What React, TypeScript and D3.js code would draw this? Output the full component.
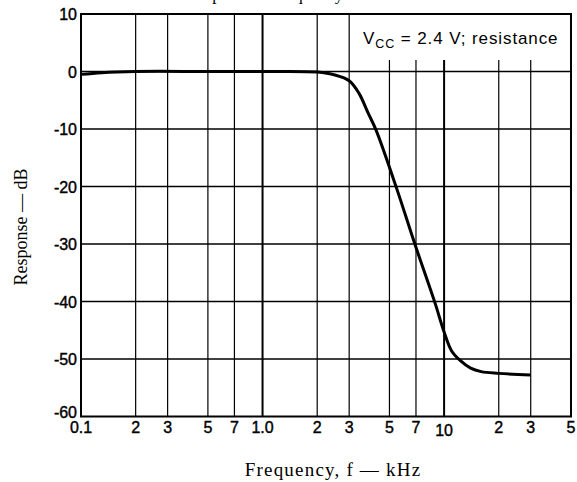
import React from "react";
import * as d3 from "d3";

// frequency (kHz) and response (dB)
const freqs = [0.1, 0.13, 0.2, 0.5, 1, 2, 2.5, 3, 3.4, 3.8, 4.22, 5.5, 6.9, 8.9, 10, 11, 12.3, 14, 16, 20, 30];
const response = [-0.5, -0.2, 0, 0, 0, -0.1, -0.6, -1.6, -3.8, -7.1, -10.2, -20.5, -30, -40.2, -45.3, -48.6, -50.3, -51.6, -52.2, -52.5, -52.8];

const xGrid = [0.2, 0.3, 0.5, 0.7, 1, 2, 3, 5, 7, 10, 20, 30];
const xMajor = [1, 10];
const xTicks = [0.1, 0.2, 0.3, 0.5, 0.7, 1, 2, 3, 5, 7, 10, 20, 30, 50];
const xTickLabels = ["0.1", "2", "3", "5", "7", "1.0", "2", "3", "5", "7", "10", "2", "3", "5"];
const yTicks = [10, 0, -10, -20, -30, -40, -50, -60];

const W = 577;
const H = 482;

const App = () => {
  const x = d3.scaleLog().domain([0.1, 50]).range([81, 571]);
  const y = d3.scaleLinear().domain([-60, 10]).range([416.5, 14]);

  const data = freqs.map((f, i) => ({ f, db: response[i] }));
  const line = d3
    .line<{ f: number; db: number }>()
    .x((d) => x(d.f))
    .y((d) => y(d.db))
    .curve(d3.curveCatmullRom.alpha(0.5));

  // legend box hides the grid in the upper right corner
  const boxLeft = x(3);
  const boxBottom = 60;

  return (
    <svg
      width={W}
      height={H}
      style={{ position: "absolute", left: 0, top: 0, background: "#fff" }}
    >
      <text x={265} y={0} fontFamily="Liberation Serif, serif" fontSize={17} textAnchor="middle">
        Response vs frequency
      </text>

      {/* horizontal grid */}
      {yTicks.slice(1, -1).map((t) => (
        <line key={"h" + t} x1={x(0.1)} x2={x(50)} y1={y(t)} y2={y(t)} stroke="#000" strokeWidth={1.3} />
      ))}

      {/* vertical grid */}
      {xGrid.map((f) => {
        const major = xMajor.includes(f);
        const top = f > 3 ? boxBottom : y(10);
        return (
          <line
            key={"v" + f}
            x1={x(f)}
            x2={x(f)}
            y1={top}
            y2={y(-60)}
            stroke="#000"
            strokeWidth={major ? 2 : 1.2}
          />
        );
      })}

      <rect x={boxLeft + 1} y={y(10) + 1} width={x(50) - boxLeft - 2} height={boxBottom - y(10) - 1} fill="#fff" />
      <text x={363} y={44} fontFamily="Liberation Sans, Arial, sans-serif" fontSize={17} letterSpacing={0.9}>
        V<tspan fontSize={12.5} dy={4}>CC</tspan>
        <tspan dy={-4}> = 2.4 V; resistance</tspan>
      </text>

      {/* frame */}
      <rect
        x={x(0.1)}
        y={y(10)}
        width={x(50) - x(0.1)}
        height={y(-60) - y(10)}
        fill="none"
        stroke="#000"
        strokeWidth={2}
      />

      <path d={line(data) ?? ""} fill="none" stroke="#000" strokeWidth={3} strokeLinejoin="round" />

      {/* y tick labels */}
      {yTicks.map((t) => (
        <text
          key={"yl" + t}
          x={77}
          y={y(t) + (t === -60 ? 1.5 : 6)}
          textAnchor="end"
          fontFamily="Liberation Sans, Arial, sans-serif"
          fontSize={16}
          stroke="#000"
          strokeWidth={0.4}
        >
          {t}
        </text>
      ))}

      {/* x tick labels */}
      {xTicks.map((f, i) => (
        <text
          key={"xl" + i}
          x={x(f)}
          y={f === 10 ? 436 : 433}
          textAnchor="middle"
          fontFamily="Liberation Sans, Arial, sans-serif"
          fontSize={16}
          stroke="#000"
          strokeWidth={0.4}
        >
          {xTickLabels[i]}
        </text>
      ))}

      <text
        x={333}
        y={476}
        textAnchor="middle"
        fontFamily="Liberation Serif, Times New Roman, serif"
        fontSize={19}
        letterSpacing={1.2}
      >
        Frequency, f — kHz
      </text>
      <text
        transform={`translate(27,227) rotate(-90)`}
        textAnchor="middle"
        fontFamily="Liberation Serif, Times New Roman, serif"
        fontSize={18}
      >
        Response — dB
      </text>
    </svg>
  );
};

export default App;
